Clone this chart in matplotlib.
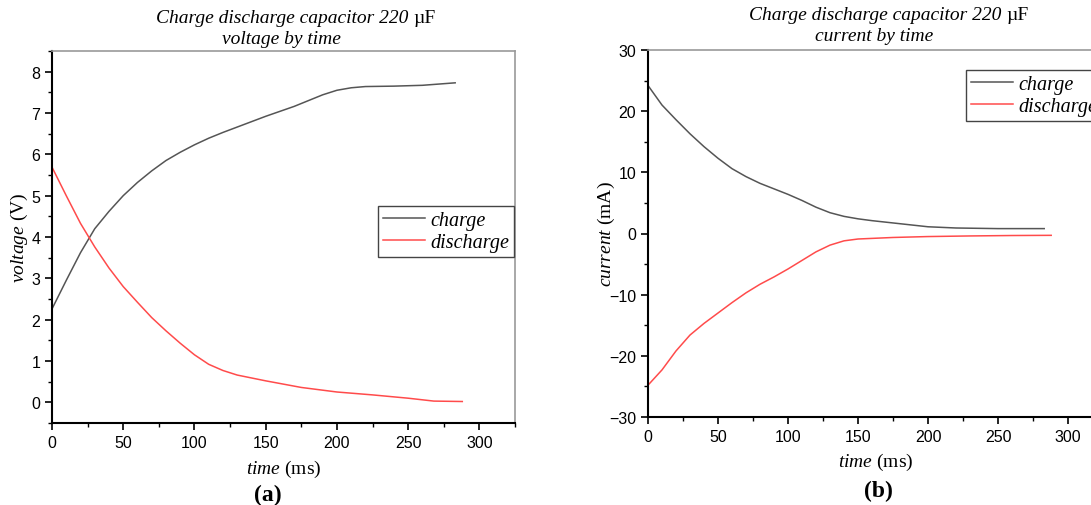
import matplotlib
matplotlib.use("Agg")
import matplotlib.pyplot as plt
from matplotlib.ticker import MultipleLocator

plt.rcParams['mathtext.fontset'] = 'custom'
plt.rcParams['mathtext.rm'] = 'Liberation Serif'
plt.rcParams['mathtext.it'] = 'Liberation Serif:italic'
plt.rcParams['font.family'] = 'Liberation Sans'

# voltage by time (V)
t_vc = [0, 10, 20, 30, 40, 50, 60, 70, 80, 90, 100, 110, 120, 130, 140, 150, 160, 170, 180, 190, 200, 210, 220, 240, 260, 283]
v_charge = [2.26, 2.95, 3.62, 4.2, 4.62, 5.0, 5.32, 5.6, 5.85, 6.05, 6.23, 6.39, 6.53, 6.66, 6.79, 6.92, 7.04, 7.16, 7.3, 7.44, 7.55, 7.61, 7.64, 7.65, 7.67, 7.73]
t_vd = [0, 10, 20, 30, 40, 50, 60, 70, 80, 90, 100, 110, 120, 130, 150, 175, 200, 225, 250, 268, 288]
v_discharge = [5.69, 5.0, 4.33, 3.76, 3.25, 2.8, 2.42, 2.05, 1.73, 1.43, 1.15, 0.92, 0.77, 0.66, 0.52, 0.36, 0.25, 0.18, 0.1, 0.03, 0.02]

# current by time (mA)
t_ic = [0, 10, 20, 30, 40, 50, 60, 70, 80, 90, 100, 110, 120, 130, 140, 150, 160, 180, 200, 220, 250, 283]
i_charge = [24.2, 21.0, 18.6, 16.3, 14.2, 12.3, 10.6, 9.3, 8.2, 7.3, 6.4, 5.4, 4.3, 3.4, 2.8, 2.4, 2.1, 1.6, 1.1, 0.9, 0.8, 0.8]
t_id = [0, 10, 20, 30, 40, 50, 60, 70, 80, 90, 100, 110, 120, 130, 140, 150, 175, 200, 230, 260, 288]
i_discharge = [-24.8, -22.3, -19.2, -16.6, -14.7, -13.0, -11.3, -9.7, -8.3, -7.1, -5.8, -4.4, -3.0, -1.9, -1.2, -0.9, -0.65, -0.5, -0.4, -0.33, -0.3]

fig = plt.figure(figsize=(10.91, 5.06), dpi=100)

ax1 = fig.add_axes([52/1091, 1-424/506, 463/1091, 372/506])
ax2 = fig.add_axes([648/1091, 1-418/506, 455/1091, 367/506])

def style(ax):
    for s in ['left', 'bottom']:
        ax.spines[s].set_linewidth(1.5)
        ax.spines[s].set_color('black')
    for s in ['top', 'right']:
        ax.spines[s].set_linewidth(1.2)
        ax.spines[s].set_color('#999999')
    ax.tick_params(which='major', direction='out', length=5, width=1.2, labelsize=11.5, top=False, right=False)
    ax.tick_params(which='minor', direction='out', length=3, width=1.0, top=False, right=False)
    ax.xaxis.set_major_locator(MultipleLocator(50))
    ax.xaxis.set_minor_locator(MultipleLocator(25))
    ax.set_xlim(0, 325)

def title(x_split, y_base, sub, x_sub):
    # italic text up to the unit, upright unit after it
    fig.text(x_split/1091, 1-y_base/506, 'Charge discharge capacitor 220 ', family='Liberation Serif',
             style='italic', fontsize=14, ha='right', va='baseline')
    fig.text(x_split/1091, 1-y_base/506, 'µF', family='Liberation Serif', fontsize=14,
             ha='left', va='baseline')
    fig.text(x_sub/1091, 1-(y_base+21)/506, sub, family='Liberation Serif', style='italic',
             fontsize=14, ha='center', va='baseline')

leg_font = {'family': 'Liberation Serif', 'style': 'italic', 'size': 14.5}
leg_kw = dict(loc='upper left', prop=leg_font, frameon=True, fancybox=False, edgecolor='#444444',
              framealpha=1, handlelength=2.1, handletextpad=0.25, borderpad=0.25,
              labelspacing=0.15, borderaxespad=0)

ax1.plot(t_vc, v_charge, color='#555555', lw=1.1, label='charge')
ax1.plot(t_vd, v_discharge, color='#ff4b4b', lw=1.1, label='discharge')
style(ax1)
ax1.set_ylim(-0.5, 8.5)
ax1.yaxis.set_major_locator(MultipleLocator(1))
ax1.yaxis.set_minor_locator(MultipleLocator(0.5))
ax1.set_xlabel(r'$\mathit{time}$ (ms)', family='Liberation Serif', fontsize=14, labelpad=6)
ax1.set_ylabel(r'$\mathit{voltage}$ (V)', family='Liberation Serif', fontsize=14, labelpad=1)
ax1.legend(bbox_to_anchor=((378-52)/463, 1-(207-52)/372), **leg_kw)
title(413, 23, 'voltage by time', 281)
fig.text(268/1091, 1-495/506, '(a)', family='Liberation Serif', fontweight='bold', fontsize=17,
         ha='center', va='center')

ax2.plot(t_ic, i_charge, color='#555555', lw=1.1, label='charge')
ax2.plot(t_id, i_discharge, color='#ff4b4b', lw=1.1, label='discharge')
style(ax2)
ax2.set_ylim(-30, 30)
ax2.yaxis.set_major_locator(MultipleLocator(10))
ax2.yaxis.set_minor_locator(MultipleLocator(5))
ax2.set_xlabel(r'$\mathit{time}$ (ms)', family='Liberation Serif', fontsize=14, labelpad=5)
ax2.set_ylabel(r'$\mathit{current}$ (mA)', family='Liberation Serif', fontsize=14, labelpad=-6)
ax2.legend(bbox_to_anchor=((966-648)/455, 1-(71-51)/367), **leg_kw)
title(1006, 20, 'current by time', 874)
fig.text(878/1091, 1-491/506, '(b)', family='Liberation Serif', fontweight='bold', fontsize=17,
         ha='center', va='center')

fig.savefig('out.png', dpi=100)
